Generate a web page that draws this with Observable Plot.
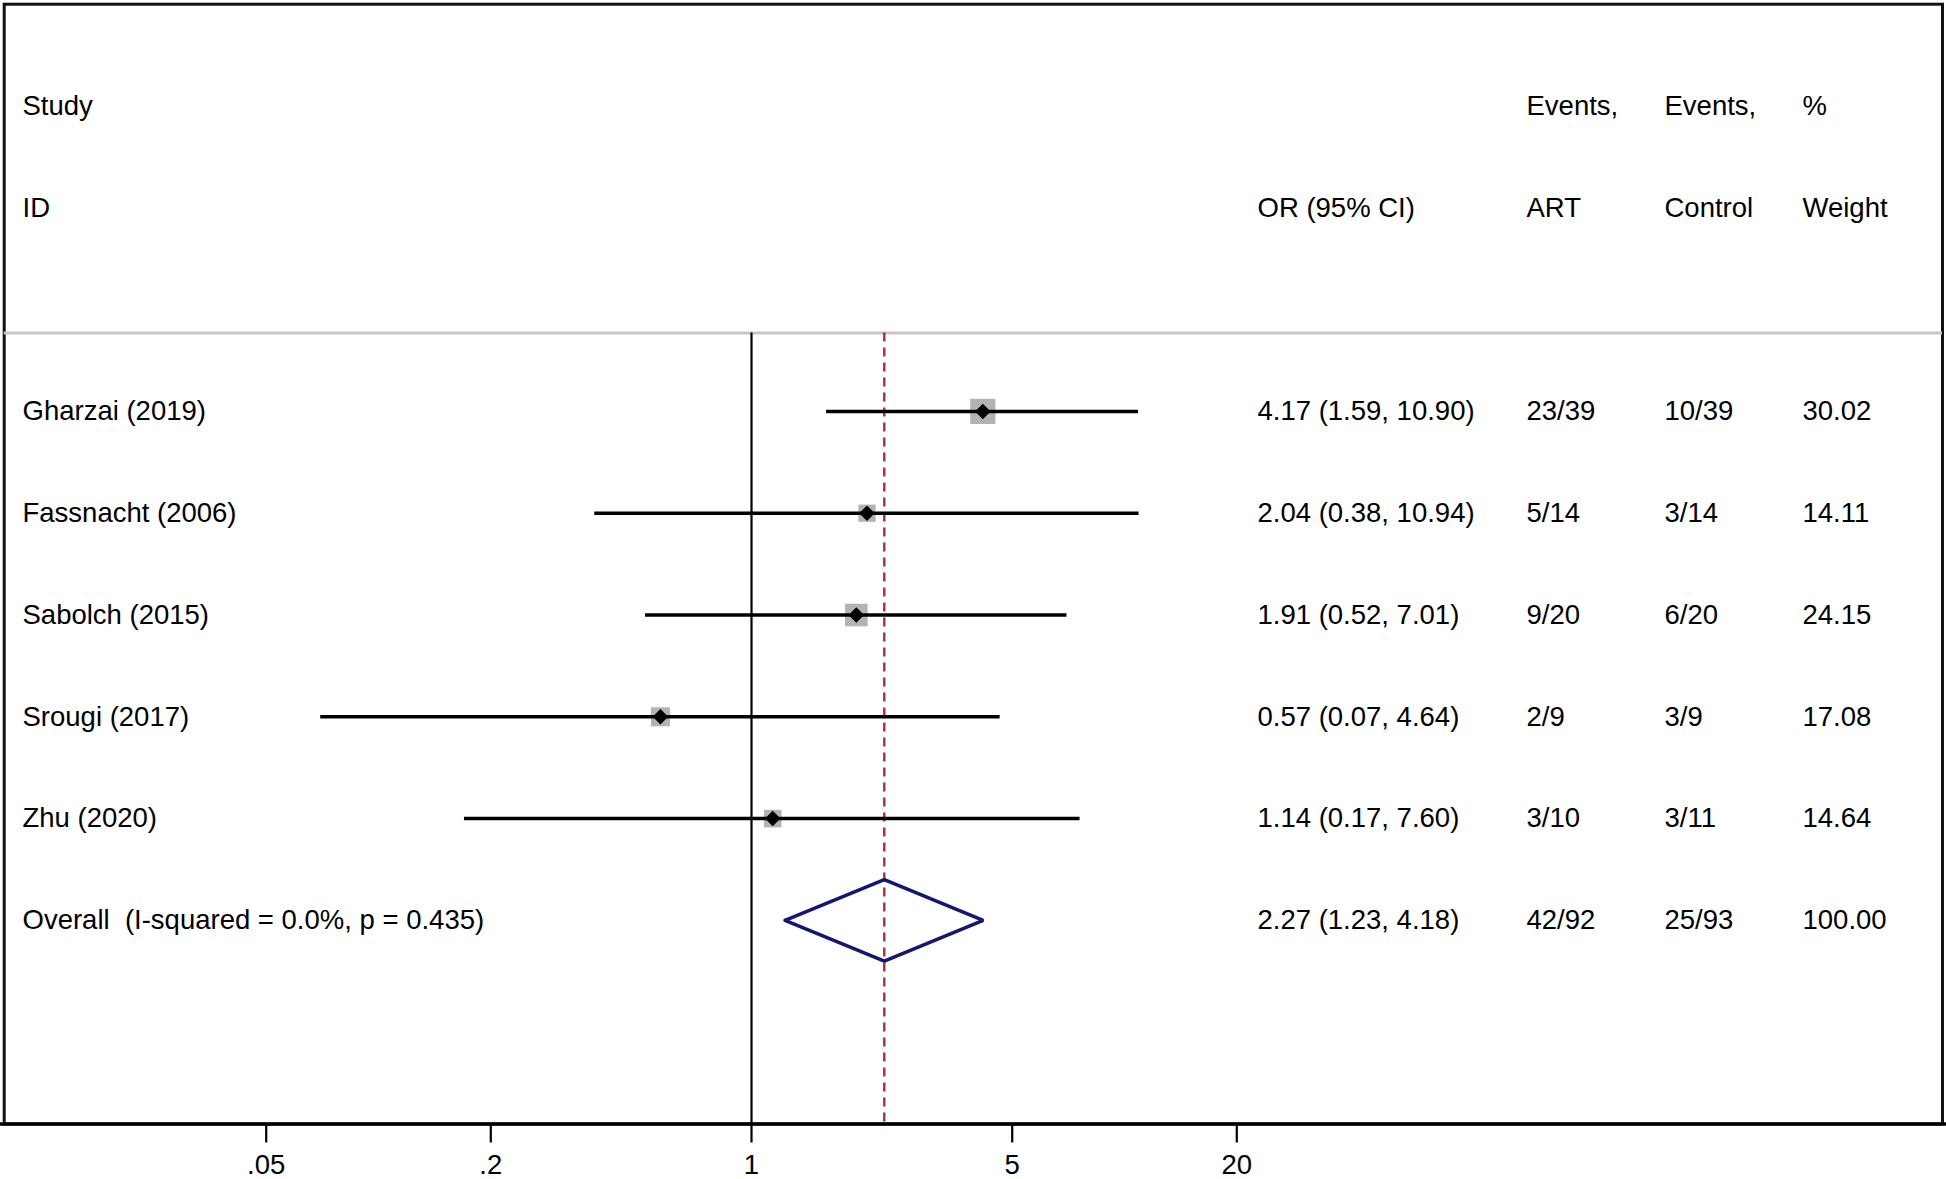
<!DOCTYPE html>
<html>
<head>
<meta charset="utf-8">
<script src="https://cdn.jsdelivr.net/npm/d3@7"></script>
<script src="https://cdn.jsdelivr.net/npm/@observablehq/plot@0.6"></script>
<style>
  html, body { margin: 0; padding: 0; background: #fff; }
  #chart svg { display: block; }
  #chart svg text { white-space: pre; }
</style>
</head>
<body>
<div id="chart"></div>
<script>
// ---- data ----
const studies = ["Gharzai (2019)", "Fassnacht (2006)", "Sabolch (2015)", "Srougi (2017)", "Zhu (2020)"];
const oddsRatio = [4.17, 2.04, 1.91, 0.57, 1.14];
const ciLow = [1.59, 0.38, 0.52, 0.07, 0.17];
const ciHigh = [10.90, 10.94, 7.01, 4.64, 7.60];
const eventsART = ["23/39", "5/14", "9/20", "2/9", "3/10"];
const eventsControl = ["10/39", "3/14", "6/20", "3/9", "3/11"];
const weights = [30.02, 14.11, 24.15, 17.08, 14.64];

const overallLabel = "Overall  (I-squared = 0.0%, p = 0.435)";
const overallOR = 2.27, overallLow = 1.23, overallHigh = 4.18;
const overallART = "42/92", overallControl = "25/93", overallWeight = 100.00;

const tickValues = [0.05, 0.2, 1, 5, 20];
const tickLabels = [".05", ".2", "1", "5", "20"];

const headerTop = [
  {text: "Study", col: "study"},
  {text: "Events,", col: "art"},
  {text: "Events,", col: "ctrl"},
  {text: "%", col: "weight"}
];
const headerBottom = [
  {text: "ID", col: "study"},
  {text: "OR (95% CI)", col: "or"},
  {text: "ART", col: "art"},
  {text: "Control", col: "ctrl"},
  {text: "Weight", col: "weight"}
];

// ---- layout (rows are grid units; columns are pixel offsets) ----
const W = 1946, H = 1179;
const firstStudyRow = 3;
const overallRow = firstStudyRow + studies.length;
const headerBreak = 2.23;
const axisRow = 10;
const yTop = 3.7, yAxis = 1123.5;
const rowPx = (yAxis - yTop) / (axisRow + 1);
const colDx = {study: 22, or: 1257, art: 1526, ctrl: 1664, weight: 1802};
const font = "'Liberation Sans', Arial, Helvetica, sans-serif";
const fs = 27.5;

const rows = studies.map((s, i) => ({
  study: s,
  row: firstStudyRow + i,
  or: oddsRatio[i], lo: ciLow[i], hi: ciHigh[i],
  orText: `${oddsRatio[i].toFixed(2)} (${ciLow[i].toFixed(2)}, ${ciHigh[i].toFixed(2)})`,
  art: eventsART[i], ctrl: eventsControl[i],
  weight: weights[i], weightText: weights[i].toFixed(2)
}));
const overallRowObj = {
  study: overallLabel, row: overallRow,
  orText: `${overallOR.toFixed(2)} (${overallLow.toFixed(2)}, ${overallHigh.toFixed(2)})`,
  art: overallART, ctrl: overallControl, weightText: overallWeight.toFixed(2)
};
const tableRows = [...rows, overallRowObj];

const dHalf = 0.4;
const diamond = [
  {x: overallLow, y: overallRow},
  {x: overallOR, y: overallRow - dHalf},
  {x: overallHigh, y: overallRow},
  {x: overallOR, y: overallRow + dHalf},
  {x: overallLow, y: overallRow}
];

const x1px = 751, pxPerDecade = 373;
const xDomain = [Math.pow(10, (0 - x1px) / pxPerDecade), Math.pow(10, (W - x1px) / pxPerDecade)];

const textCol = (data, col, field) => Plot.text(data, {
  y: "row", text: field, frameAnchor: "left", dx: colDx[col],
  textAnchor: "start", lineAnchor: "middle", fontSize: fs, fill: "#000"
});
const headerText = (list, row) => list.map(h => Plot.text([h], {
  y: () => row, text: "text", frameAnchor: "left", dx: colDx[h.col],
  textAnchor: "start", lineAnchor: "middle", fontSize: fs, fill: "#000"
}));

const chart = Plot.plot({
  width: W, height: H,
  marginLeft: 0, marginRight: 0, marginTop: yTop, marginBottom: H - yAxis,
  style: {fontFamily: font, background: "#fff"},
  x: {type: "log", domain: xDomain, axis: null},
  y: {domain: [-1, axisRow], range: [yTop, yAxis], axis: null},
  r: {type: "sqrt", domain: [0, d3.max(weights)], range: [0, 14.2]},
  marks: [
    Plot.frame({stroke: "#111", strokeWidth: 3, insetLeft: 3.7, insetRight: 4}),
    Plot.ruleY([headerBreak], {stroke: "#c6c6c6", strokeWidth: 3, insetLeft: 3.7, insetRight: 4}),
    Plot.ruleX([1], {y1: headerBreak, y2: axisRow, stroke: "#000", strokeWidth: 2.2}),
    Plot.ruleX([overallOR], {y1: headerBreak, y2: axisRow, stroke: "#a3303c", strokeWidth: 2.4, strokeDasharray: "9,6"}),
    Plot.dot(rows, {x: "or", y: "row", r: "weight", symbol: "square", fill: "#b3b3b3", stroke: "none"}),
    Plot.ruleY(rows, {y: "row", x1: "lo", x2: "hi", stroke: "#000", strokeWidth: 3.5}),
    Plot.dot(rows, {x: "or", y: "row", r: 7, symbol: "diamond2", fill: "#000", stroke: "none"}),
    Plot.line(diamond, {x: "x", y: "y", stroke: "#15166e", strokeWidth: 3.5, strokeLinejoin: "miter"}),
    // header
    ...headerText(headerTop, 0),
    ...headerText(headerBottom, 1),
    // table
    textCol(tableRows, "study", "study"),
    textCol(tableRows, "or", "orText"),
    textCol(tableRows, "art", "art"),
    textCol(tableRows, "ctrl", "ctrl"),
    textCol(tableRows, "weight", "weightText"),
    // axis
    Plot.ruleY([axisRow], {stroke: "#000", strokeWidth: 3.5}),
    Plot.ruleX(tickValues, {y1: axisRow, y2: axisRow + 19 / rowPx, stroke: "#000", strokeWidth: 2.2}),
    Plot.text(tickValues, {
      x: d => d, y: () => axisRow, text: (d, i) => tickLabels[i],
      dy: 41.5, lineAnchor: "middle", textAnchor: "middle", fontSize: fs, fill: "#000"
    })
  ]
});
document.getElementById("chart").appendChild(chart);
</script>
</body>
</html>
